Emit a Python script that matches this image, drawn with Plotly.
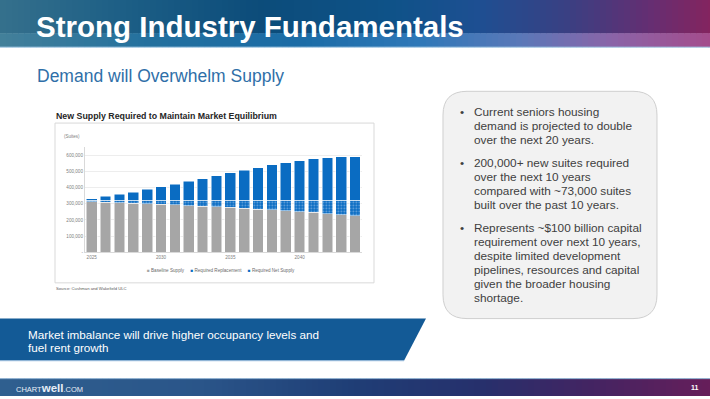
import plotly.graph_objects as go

# ---------------- data ----------------
years = list(range(2025, 2045))
baseline_supply = [312000, 310000, 306000, 304000, 300000, 296000, 292000, 288000, 285000, 282000,
                   278000, 273000, 267000, 263000, 257000, 251000, 246000, 239000, 233000, 225000]
required_replacement = [8000, 10000, 14000, 16000, 20000, 24000, 28000, 32000, 35000, 38000,
                        42000, 47000, 53000, 57000, 63000, 69000, 74000, 81000, 87000, 95000]
required_net_supply = [11000, 26000, 38000, 52000, 68000, 85000, 101000, 117000, 134000, 152000,
                       170000, 186000, 202000, 219000, 232000, 244000, 256000, 262000, 268000, 268000]
series_names = ["Baseline Supply", "Required Replacement", "Required Net Supply"]
x_tick_years = [2025, 2030, 2035, 2040]
y_tick_vals = [0, 100000, 200000, 300000, 400000, 500000, 600000]
y_tick_text = ["-", "100,000", "200,000", "300,000", "400,000", "500,000", "600,000"]

W, H = 710, 399
FONT = "Liberation Sans, Arial, sans-serif"
BLUE = "#0A6CC2"
GRAY = "#A6A6A6"


def X(px):
    return px / W


def Y(py):
    return 1 - py / H


def hexmix(c1, c2, t):
    a = [int(c1[i:i + 2], 16) for i in (1, 3, 5)]
    b = [int(c2[i:i + 2], 16) for i in (1, 3, 5)]
    return "#%02x%02x%02x" % tuple(round(a[k] + (b[k] - a[k]) * t) for k in range(3))


def grad_color(stops, x):
    for (x0, c0), (x1, c1) in zip(stops, stops[1:]):
        if x0 <= x <= x1:
            return hexmix(c0, c1, (x - x0) / (x1 - x0) if x1 > x0 else 0)
    return stops[-1][1]


fig = go.Figure()

fig.add_trace(go.Bar(x=years, y=baseline_supply, name=series_names[0],
                     marker=dict(color=GRAY, line=dict(color="white", width=0.5)), width=0.77))
fig.add_trace(go.Bar(x=years, y=required_replacement, name=series_names[1],
                     marker=dict(color=BLUE, line=dict(color="white", width=0.5),
                                 pattern=dict(shape=".", bgcolor=BLUE, fgcolor="#C9DEF5",
                                              size=3, solidity=0.3)), width=0.77))
fig.add_trace(go.Bar(x=years, y=required_net_supply, name=series_names[2],
                     marker=dict(color=BLUE, line=dict(color="white", width=0.5)), width=0.77))

shapes = []

# header gradient
top_stops = [(0, "#35708C"), (120, "#1D5F86"), (260, "#0C4C7A"), (390, "#0E5288"),
             (480, "#1E4F92"), (570, "#3B3F82"), (650, "#652E72"), (710, "#84245F")]
bot_stops = [(0, "#43809A"), (150, "#23709E"), (300, "#1B6CA6"), (420, "#2F78B8"),
             (520, "#5A78B8"), (610, "#8A64A8"), (710, "#A44C8C")]
step = 6
for xs in range(0, W, step):
    xc = xs + step / 2
    shapes.append(dict(type="rect", xref="paper", yref="paper", x0=X(xs), x1=X(xs + step + 0.5),
                       y0=Y(34), y1=Y(0), fillcolor=grad_color(top_stops, xc), line=dict(width=0),
                       layer="below"))
    shapes.append(dict(type="rect", xref="paper", yref="paper", x0=X(xs), x1=X(xs + step + 0.5),
                       y0=Y(47.5), y1=Y(33.5), fillcolor=grad_color(bot_stops, xc), line=dict(width=0),
                       layer="below"))
shapes.append(dict(type="line", xref="paper", yref="paper", x0=0, x1=1, y0=Y(47.5), y1=Y(47.5),
                   line=dict(color="#9CC3E0", width=1), layer="below"))

# footer gradient
foot_stops = [(0, "#2F5F8F"), (200, "#2A5589"), (350, "#1F3E76"), (480, "#26306C"),
              (590, "#432462"), (710, "#661E5A")]
for xs in range(0, W, step):
    xc = xs + step / 2
    shapes.append(dict(type="rect", xref="paper", yref="paper", x0=X(xs), x1=X(xs + step + 0.5),
                       y0=0, y1=Y(381.5), fillcolor=grad_color(foot_stops, xc), line=dict(width=0),
                       layer="below"))
shapes.append(dict(type="line", xref="paper", yref="paper", x0=0, x1=1, y0=Y(381.5), y1=Y(381.5),
                   line=dict(color="#8FB0D0", width=1), layer="below"))

# chart frame
shapes.append(dict(type="rect", xref="paper", yref="paper", x0=X(55), x1=X(374), y0=Y(285), y1=Y(124),
                   fillcolor="white", line=dict(color="#D9D9D9", width=1), layer="below"))

# rounded info box
x0, y0, x1, y1, r = 443, 92, 657, 321, 24


def P(px, py):
    return "%.5f,%.5f" % (X(px), Y(py))


path = ("M " + P(x0 + r, y0) + " L " + P(x1 - r, y0) + " Q " + P(x1, y0) + " " + P(x1, y0 + r) +
        " L " + P(x1, y1 - r) + " Q " + P(x1, y1) + " " + P(x1 - r, y1) +
        " L " + P(x0 + r, y1) + " Q " + P(x0, y1) + " " + P(x0, y1 - r) +
        " L " + P(x0, y0 + r) + " Q " + P(x0, y0) + " " + P(x0 + r, y0) + " Z")
shapes.append(dict(type="path", xref="paper", yref="paper", path=path, fillcolor="#F2F2F2",
                   line=dict(color="#CFCFCF", width=1), layer="below"))

# blue banner
bpath = "M " + P(0, 321) + " L " + P(426, 321) + " L " + P(404, 363.5) + " L " + P(0, 363.5) + " Z"
shapes.append(dict(type="path", xref="paper", yref="paper", path=bpath, fillcolor="#135A96",
                   line=dict(width=0), layer="below"))
shapes.append(dict(type="line", xref="paper", yref="paper", x0=0, x1=X(404), y0=Y(363.5), y1=Y(363.5),
                   line=dict(color="#A9C8E4", width=1), layer="below"))

annotations = []


def txt(x, y, text, size, color, xanchor="left", yanchor="middle", bold=False):
    annotations.append(dict(x=X(x), y=Y(y), xref="paper", yref="paper", text=("<b>%s</b>" % text) if bold else text,
                            showarrow=False, xanchor=xanchor, yanchor=yanchor, align="left",
                            font=dict(family=FONT, size=size, color=color)))


txt(34, 27, "Strong Industry Fundamentals", 29.5, "white", bold=True)
txt(35, 77, "Demand will Overwhelm Supply", 17.5, "#2F6FA8")
txt(54, 116.5, "New Supply Required to Maintain Market Equilibrium", 8.8, "#262626", bold=True)
txt(62, 137.5, "(Suites)", 4.5, "#808080")
txt(54, 290.5, "Source: Cushman and Wakefield ULC", 4.2, "#595959")
legend_html = ('<span style="color:%s">■</span> %s     '
               '<span style="color:%s">■</span> %s     '
               '<span style="color:%s">■</span> %s') % (GRAY, series_names[0], BLUE, series_names[1],
                                                         BLUE, series_names[2])
txt(221, 272.7, legend_html, 4.6, "#6B6B6B", xanchor="center")

box_lines = [
    (112.7, "Current seniors housing"), (126.7, "demand is projected to double"),
    (140.8, "over the next 20 years."),
    (164.3, "200,000+ new suites required"), (178.6, "over the next 10 years"),
    (192.6, "compared with ~73,000 suites"), (206.8, "built over the past 10 years."),
    (229.6, "Represents ~$100 billion capital"), (244.2, "requirement over next 10 years,"),
    (258.0, "despite limited development"), (272.4, "pipelines, resources and capital"),
    (286.4, "given the broader housing"), (300.6, "shortage."),
]
for yy, t in box_lines:
    txt(472, yy, t, 11.8, "#404040")
for yy in (112.7, 164.3, 229.6):
    txt(458, yy, "•", 11.8, "#404040")

txt(26, 336.7, "Market imbalance will drive higher occupancy levels and", 11.7, "white")
txt(26, 350.3, "fuel rent growth", 11.7, "white")

txt(14, 390.5, '<span style="font-size:7.5px">CHART</span><b>well</b><span style="font-size:7.5px">.COM</span>',
    11.5, "#E8EEF6")
txt(701, 390, "11", 7, "white", xanchor="right", bold=True)

fig.update_layout(
    width=W, height=H, margin=dict(l=0, r=0, t=0, b=0),
    paper_bgcolor="white", plot_bgcolor="rgba(0,0,0,0)",
    barmode="stack", bargap=0.23, showlegend=False,
    shapes=shapes, annotations=annotations,
    font=dict(family=FONT),
    xaxis=dict(domain=[X(84.8), X(362)], range=[2024.5, 2044.5], tickvals=x_tick_years,
               ticktext=[str(v) for v in x_tick_years], tickfont=dict(size=4.6, color="#808080"),
               showgrid=False, showline=True, linecolor="#D9D9D9", linewidth=0.8, ticks="",
               zeroline=False, fixedrange=True),
    yaxis=dict(domain=[Y(254.3), Y(148)], range=[0, 650000], tickvals=y_tick_vals, ticktext=y_tick_text,
               tickfont=dict(size=4.6, color="#808080"), showgrid=True, gridcolor="#EDEDED",
               gridwidth=0.8, showline=True, linecolor="#D9D9D9", linewidth=0.8, ticks="",
               zeroline=False, fixedrange=True),
)

fig.write_html("out.html", config={"displayModeBar": False},
               post_script="document.body.style.margin='0';document.body.style.padding='0';"
                           "document.body.style.overflow='hidden';")
